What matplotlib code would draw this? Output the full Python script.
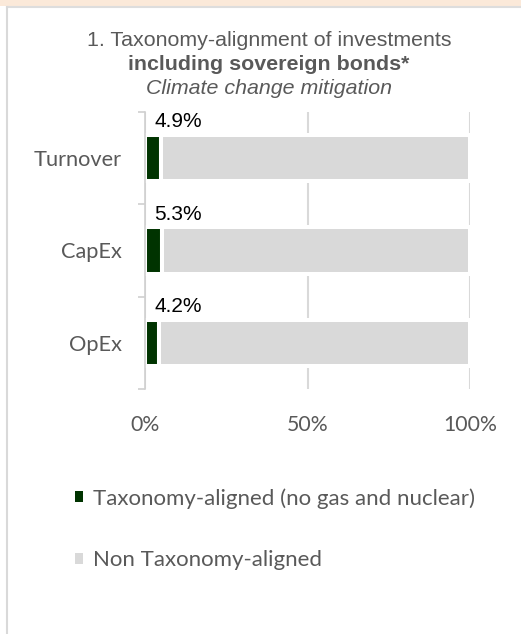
import matplotlib.pyplot as plt
from matplotlib.patches import Patch, Rectangle
from matplotlib.lines import Line2D

categories = ['Turnover', 'CapEx', 'OpEx']
aligned = [4.9, 5.3, 4.2]
non_aligned = [95.1, 94.7, 95.8]
xticks = [0, 50, 100]
xticklabels = ['0%', '50%', '100%']
legend_labels = ['Taxonomy-aligned (no gas and nuclear)', 'Non Taxonomy-aligned']

green = '#003300'
light = '#D9D9D9'
txt_gray = '#595959'

W, H = 521, 634
fig = plt.figure(figsize=(W / 100, H / 100), dpi=100)

# panel decoration: peach band on top, thin gray border
fig.add_artist(Rectangle((0, 1 - 6 / H), 1, 6 / H, transform=fig.transFigure,
                         color='#FBE9D9', lw=0))
fig.add_artist(Line2D([7 / W, 1], [1 - 7 / H, 1 - 7 / H], transform=fig.transFigure,
                      color='#DDDDDD', lw=1.5))
fig.add_artist(Line2D([7 / W, 7 / W], [0, 1 - 7 / H], transform=fig.transFigure,
                      color='#D9D9D9', lw=1.5))

# title, three lines
tfont = dict(ha='center', va='center', fontsize=15.4, color=txt_gray, family='Liberation Sans')
fig.text(269 / W, 1 - 40 / H, '1. Taxonomy-alignment of investments', **tfont)
fig.text(269 / W, 1 - 65 / H, 'including sovereign bonds*', fontweight='bold', **tfont)
fig.text(269 / W, 1 - 88 / H, 'Climate change mitigation', style='italic', **tfont)

ax = fig.add_axes([145 / W, 1 - 389 / H, 325 / W, 277 / H])
y = list(range(len(categories)))
ax.barh(y, aligned, height=0.5, color=green, edgecolor='white', linewidth=2.9, zorder=2)
ax.barh(y, non_aligned, left=aligned, height=0.5, color=light, edgecolor='white',
        linewidth=2.9, zorder=2)

for i, v in enumerate(aligned):
    ax.annotate(f'{v}%', xy=(0, i - 0.25), xytext=(6.5, 9.5), textcoords='offset points',
                ha='left', va='center', fontsize=15, color='black', family='Liberation Sans')

ax.set_xlim(0, 100)
ax.set_ylim(2.5, -0.5)
ax.set_xticks(xticks)
ax.set_xticklabels(xticklabels, family='Lato', fontsize=15.3, color=txt_gray)
ax.tick_params(axis='x', length=0, pad=19)
ax.grid(axis='x', color=light, lw=1.5, zorder=0)
ax.set_axisbelow(True)

ax.set_yticks([-0.5, 0.5, 1.5, 2.5])
ax.set_yticklabels([])
ax.set_yticks(y, minor=True)
ax.set_yticklabels(categories, minor=True, family='Lato', fontsize=15.7, color=txt_gray)
ax.tick_params(axis='y', which='major', length=5, width=1.2, color='#D0D0D0')
ax.tick_params(axis='y', which='minor', length=0, pad=16.5)

for s in ['top', 'right', 'bottom']:
    ax.spines[s].set_visible(False)
ax.spines['left'].set_color('#D0D0D0')
ax.spines['left'].set_linewidth(1.2)

handles = [Patch(facecolor=green, edgecolor='none'), Patch(facecolor=light, edgecolor='none')]
fig.legend(handles, legend_labels, loc='upper left', bbox_to_anchor=(75 / W, 1 - 488 / H),
           frameon=False, prop={'family': 'Lato', 'size': 16}, labelcolor=txt_gray,
           handlelength=0.37, handleheight=0.37, handletextpad=0.42, labelspacing=1.87,
           borderpad=0, borderaxespad=0)

fig.savefig('out.png', dpi=100)
